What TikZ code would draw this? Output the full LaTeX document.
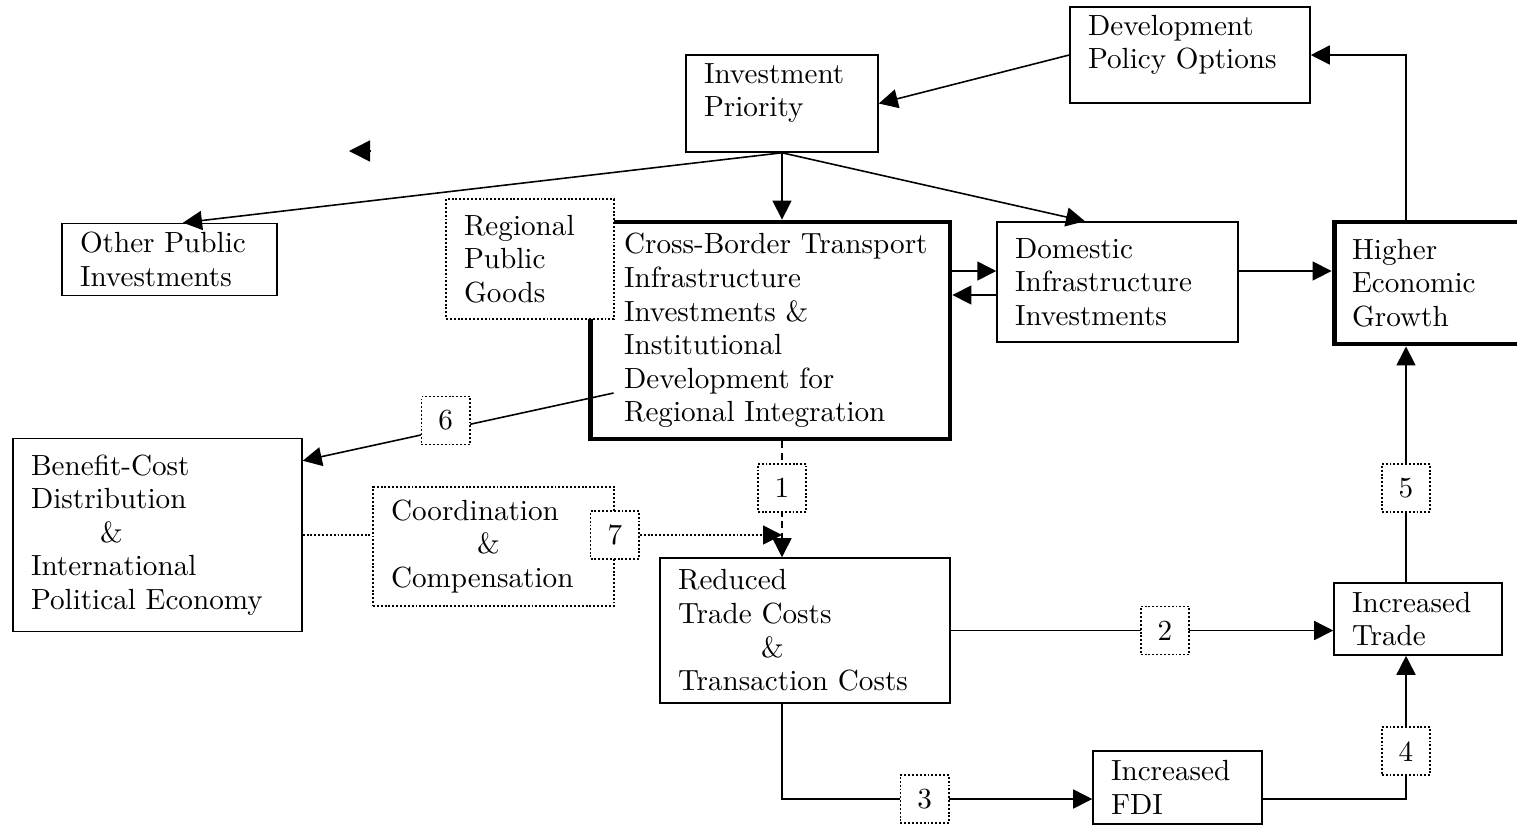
\documentclass[tikz,border=0pt]{standalone}
\usepackage{fontspec}
\setmainfont{lmroman10-regular.otf}
\usetikzlibrary{arrows.meta,calc}

\tikzset{
  box/.style={draw, fill=white, line width=0.9pt, inner xsep=0.36cm, inner ysep=0pt},
  thickbox/.style={box, line width=2.8pt},
  dotline/.style={line width=0.95pt, dash pattern=on 1.1pt off 1.1pt},
  dotbox/.style={box, dotline},
  numbox/.style={draw, fill=white, dotline, minimum width=0.97cm, minimum height=0.96cm, inner sep=0pt},
}

\begin{document}
\begin{tikzpicture}[x=0.02cm, y=-0.02cm, line width=0.9pt,
    >={Triangle[length=0.38cm, width=0.38cm]},
    every text node part/.style={align=left},
    font=\fontsize{16.6}{19.1}\selectfont]
  \useasboundingbox (0,0) rectangle (1517,826);

  % Boxes
  \node[box, text width=4.08cm, minimum height=1.92cm] (dev) at (1190,55) {Development\\Policy Options\\[-4pt]\mbox{}};
  \node[box, text width=3.12cm, minimum height=1.94cm] (prio) at (782,103.5) {Investment\\Priority\\[-4pt]\mbox{}};
  \node[box, text width=3.58cm, minimum height=1.44cm] (other) at (169.5,259.5) {Other Public\\Investments};
  \node[thickbox, inner xsep=0.25cm, text width=6.7cm, minimum height=4.34cm] (cbt) at (770,330.5) {\leftskip=0.43cm \mbox{Cross-Border Transport}\\Infrastructure\\Investments \&\\Institutional\\Development for\\Regional Integration\par};
  \node[dotbox, text width=2.64cm, minimum height=2.4cm] (rpg) at (530,259) {Regional\\Public\\Goods};
  \node[box, text width=4.1cm, minimum height=2.4cm] (dom) at (1117.5,282) {Domestic\\Infrastructure\\Investments};
  \node[thickbox, text width=3.28cm, minimum height=2.44cm] (growth) at (1434,283) {Higher\\Economic\\Growth};
  \node[box, text width=5.06cm, minimum height=3.86cm] (bcd) at (157.5,535) {Benefit-Cost\\Distribution\\\hspace*{1.38cm}\&\\International\\Political Economy};
  \node[dotbox, text width=4.1cm, minimum height=2.38cm] (coord) at (493.5,546.5) {Coordination\\\hspace*{1.72cm}\&\\Compensation};
  \node[box, text width=5.08cm, minimum height=2.9cm] (cost) at (805,630.5) {Reduced\\Trade Costs\\\hspace*{1.66cm}\&\\Transaction Costs};
  \node[box, text width=2.64cm, minimum height=1.44cm] (trade) at (1418,619) {Increased\\Trade};
  \node[box, text width=2.66cm, minimum height=1.46cm] (fdi) at (1177.5,787.5) {Increased\\FDI};

  % Helper points
  \coordinate (rail) at (1406,488);
  \coordinate (link) at ($(fdi.west)+(0,11.5)$);
  \coordinate (hi) at ($(dom.west)+(0,-11)$);
  \coordinate (lo) at ($(dom.west)+(0,13)$);
  \coordinate (src) at ($(cbt.west)+(26,62.5)$);
  \coordinate (stray) at (371,151);

  % Arcs
  \draw[->] (dev.west) -- (prio.east);
  \draw[->] (prio.south) -- ($(other.north)+(13.5,0)$);
  \draw[->] (prio.south) -- (prio.south |- cbt.north);
  \draw[->] (prio.south) -- ($(dom.north)+(-32.5,0)$);
  \draw[->] (cbt.east |- hi) -- (hi);
  \draw[->] (lo) -- (cbt.east |- lo);
  \draw[->] (dom.east |- hi) -- (growth.west |- hi);
  \draw[->] (growth.north -| rail) |- (dev.east);

  \draw[->] (src) -- node[numbox, pos=0.54, yshift=0.18cm] (n6) {6} ($(bcd.north east)+(0,23)$);
  \draw[->, dash pattern=on 4pt off 2.5pt] (cbt.south -| prio.south) -- node[numbox, pos=0.4] (n1) {1} (cost.north -| prio.south);

  \draw[dotline] (bcd.east) -- (coord.west |- bcd.east);
  \node[numbox] (n7) at ($(coord.east)+(0,-11.5)$) {7};
  \draw[dotline, ->] (n7) -- (n7 -| prio.south);

  \draw[->] (cost.east) -- node[numbox, pos=0.56] (n2) {2} (trade.west |- cost.east);
  \draw[->] (cost.south -| prio.south) |- node[numbox, pos=0.73] (n3) {3} (fdi.west |- link);
  \draw[->] (fdi.east |- link) -| node[numbox, pos=0.667] (n4) {4} (trade.south -| rail);
  \draw[->] (trade.north -| rail) -- node[numbox, pos=0.4] (n5) {5} (growth.south -| rail);

  \draw[-{Triangle[length=0.42cm, width=0.42cm]}] (stray) -- ++(-22,0);
\end{tikzpicture}
\end{document}
